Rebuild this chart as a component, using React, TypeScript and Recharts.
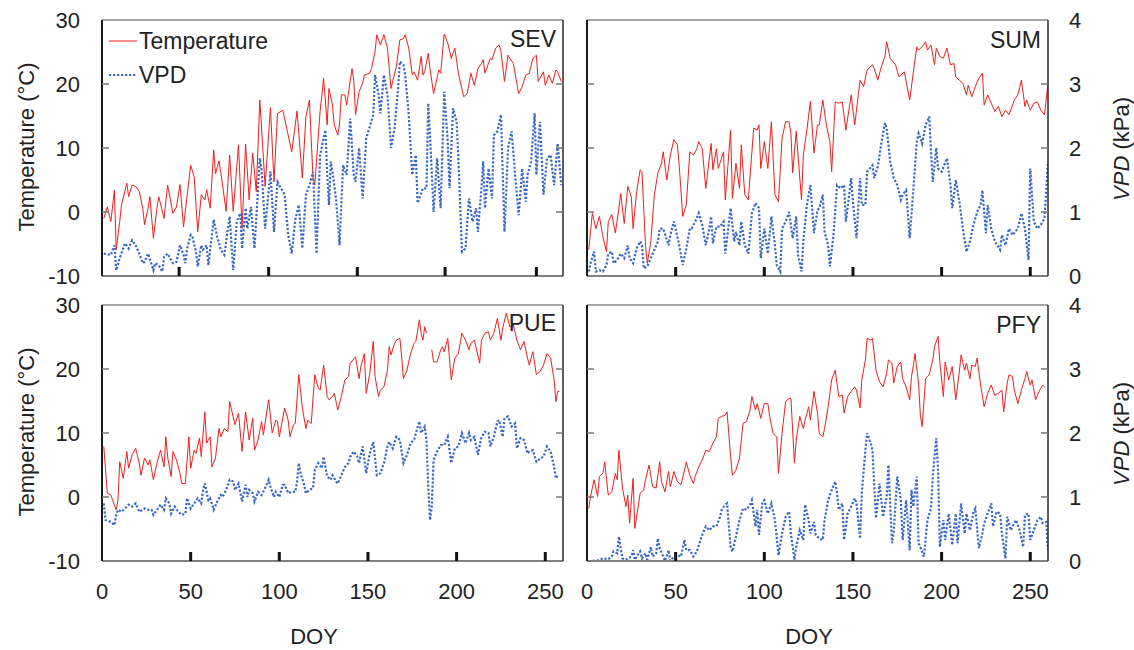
import React from 'react';
import { LineChart, Line, XAxis, YAxis } from 'recharts';

type Pt = [number, number | null];

// [DOY, °C] and [DOY, kPa]
const sevTemp: Pt[] = [[1,-1],[3,0.8],[5,-1.5],[7,3.4],[8,-5.9],[10,-1.5],[11,1.1],[14,4.5],[15,2.4],[17,4.2],[19,4],[21,3.2],[23,0.6],[24,-2],[26,0.6],[27,2.4],[29,-4.1],[31,0.6],[32,2.4],[35,-1],[37,4.2],[40,-0.2],[42,0.8],[44,4.3],[46,-2.3],[50,7.3],[52,5.5],[54,-3.1],[56,2.7],[58,1.9],[59,3.5],[61,0.6],[63,9.7],[64,6],[66,8],[68,4.2],[70,0.1],[72,8.9],[74,0.1],[77,10.5],[79,-2.6],[81,10.6],[83,1.9],[85,9.2],[87,3.2],[89,17.5],[90,13.1],[92,4],[95,16.3],[97,4.7],[99,15.4],[102,15.9],[104,13.3],[107,9.4],[110,15.8],[113,5.3],[115,14.9],[117,17.5],[119,5.3],[120,4.2],[123,15.7],[125,20.9],[127,13.6],[128,19.3],[130,16.7],[131,13.6],[133,12],[134,13.9],[135,18.3],[137,18.3],[138,16.7],[141,22.4],[142,20.6],[143,15.2],[145,18.8],[147,20.1],[148,21.4],[151,21.7],[152,22.4],[154,25.1],[155,27.7],[157,26.1],[159,27.7],[161,25.6],[163,19.3],[166,22.7],[168,26.9],[170,27.1],[171,27.7],[173,25.6],[175,21.4],[176,21.9],[178,20.6],[180,24.3],[181,21.4],[182,21.9],[184,24.8],[185,22.4],[187,18.5],[190,22.2],[191,21.7],[193,27.8],[195,26.4],[197,24],[199,25.6],[201,21.7],[204,18],[206,18.5],[208,21.7],[210,19.8],[212,22.4],[214,23.2],[215,23.8],[216,21.7],[219,24],[220,23.8],[222,25.6],[224,26.1],[225,25.1],[227,20.4],[229,24.5],[230,24],[232,23.2],[235,18.5],[237,19.6],[239,21.4],[241,21.7],[243,24],[245,24.5],[246,20.4],[249,21.9],[250,19.8],[252,21.4],[254,20.1],[256,22.2],[257,21.9],[259,20.4]];
const sevVpd: Pt[] = [[1,0.35],[5,0.33],[7,0.48],[8,0.09],[10,0.28],[13,0.51],[15,0.43],[17,0.56],[19,0.48],[21,0.35],[23,0.2],[24,0.22],[26,0.35],[29,0.09],[30,0.2],[32,0.17],[34,0.07],[35,0.3],[37,0.35],[40,0.2],[42,0.22],[44,0.48],[46,0.33],[47,0.2],[48,0.43],[50,0.64],[51,0.61],[53,0.38],[54,0.15],[56,0.48],[57,0.41],[59,0.48],[60,0.17],[63,0.88],[65,0.61],[67,0.41],[69,0.33],[71,0.74],[72,0.93],[74,0.09],[76,0.85],[78,0.98],[79,0.43],[81,1.06],[82,0.74],[84,1.08],[86,0.43],[89,1.84],[90,1.66],[92,0.74],[95,1.63],[97,0.69],[99,1.47],[101,1.37],[103,1.27],[105,0.64],[107,0.35],[109,0.88],[111,1.11],[113,0.43],[115,1.27],[117,1.42],[119,1.63],[121,0.35],[123,1.89],[126,2.28],[127,1.6],[128,1.11],[129,1.79],[130,1.63],[132,1.21],[134,0.48],[135,1.16],[136,1.73],[138,1.58],[140,2.46],[142,1.58],[143,1.47],[145,2],[147,1.21],[149,2.15],[151,2.33],[153,2.52],[154,3.14],[156,2.83],[157,2.54],[159,3.14],[161,2.83],[163,2],[165,2.31],[167,2.93],[168,3.35],[170,3.3],[171,3.14],[173,2.52],[175,1.58],[177,1.89],[178,1.14],[181,1.37],[183,1.37],[184,2.7],[185,2.2],[187,1],[189,1.84],[191,1.06],[193,2.88],[195,2.1],[196,1.37],[198,2.62],[200,2.41],[201,1.84],[203,0.38],[205,0.43],[207,1.21],[209,0.85],[211,1.06],[212,0.69],[214,1.37],[215,1.79],[216,1.06],[218,1.68],[220,1.21],[221,2.2],[223,2.26],[225,2.52],[227,0.69],[229,2],[231,2.26],[233,1.58],[235,0.95],[237,1.68],[239,1.16],[240,1.58],[242,1.79],[244,2.54],[245,1.58],[247,2.41],[249,1.27],[251,1.84],[253,1.89],[255,1.42],[257,2.07],[259,1.42]];

const sumTemp: Pt[] = [[1,-5.9],[3,-0.2],[5,-2.6],[7,-0.7],[9,-3.9],[11,-6.2],[12,-1.5],[14,-0.4],[16,-3.3],[18,0.6],[19,2.9],[21,-1.8],[23,4],[25,2.4],[26,-2.6],[28,3.2],[30,6.6],[31,6.3],[33,-5.2],[34,-8],[36,-4.6],[38,2.7],[40,6.1],[42,7.6],[43,9.4],[45,5],[47,8.9],[49,11.3],[51,10.5],[52,7.3],[54,-0.7],[56,1.1],[58,9.4],[60,8.9],[62,9.9],[63,11],[65,9.9],[67,3.7],[70,10.7],[71,6.6],[73,9.9],[74,6.8],[77,9.4],[78,1.9],[81,12.8],[82,2.1],[84,7.6],[86,3.7],[87,10.5],[89,2.7],[91,1.9],[94,13.1],[96,12.8],[97,13.6],[98,6.8],[100,11],[102,6.8],[104,14.1],[106,2.7],[108,1.6],[110,11.5],[112,14.1],[114,14.1],[115,12.3],[116,6.1],[118,12.6],[120,5.3],[121,1.9],[122,8.9],[124,12.8],[126,17.3],[128,9.2],[130,13.6],[131,13.6],[133,17.5],[135,13.6],[137,11],[138,6.3],[140,17.2],[142,17],[144,17.2],[146,12.8],[149,18.3],[151,13.6],[154,20.6],[156,19.6],[158,22.2],[161,23],[162,22.4],[164,20.6],[166,22.7],[168,24.3],[169,26.6],[171,24],[174,23],[176,21.1],[177,21.4],[179,21.9],[182,17.5],[184,21.7],[186,25.8],[187,25.3],[189,25.8],[191,26.6],[192,25.3],[194,26.1],[196,23],[197,25.6],[199,24.3],[201,24],[203,25.6],[205,23],[207,23.2],[208,21.1],[210,20.6],[212,20.1],[214,18.3],[215,19.8],[217,18],[219,19.6],[221,20.9],[223,21.7],[224,16.7],[226,18.3],[228,17],[230,15.7],[232,16.5],[234,14.9],[236,15.9],[238,15.2],[240,16.7],[241,17.5],[243,18.3],[245,20.6],[247,16.5],[248,17.5],[250,15.9],[252,17],[254,17.2],[256,15.9],[258,15.2],[260,20.1]];
const sumVpd: Pt[] = [[1,0.07],[2,0.2],[4,0.38],[5,0.07],[7,0.09],[9,0.07],[11,0.17],[12,0.35],[14,0.38],[15,0.2],[17,0.25],[19,0.35],[21,0.28],[23,0.48],[24,0.28],[26,0.2],[28,0.43],[30,0.54],[31,0.48],[32,0.12],[34,0.15],[36,0.28],[38,0.41],[40,0.54],[41,0.74],[43,0.74],[46,0.48],[47,0.64],[49,0.85],[50,0.74],[52,0.48],[54,0.17],[56,0.43],[58,0.74],[59,0.74],[61,0.85],[63,0.98],[65,0.8],[67,0.48],[69,0.74],[70,0.93],[71,0.51],[73,0.77],[75,0.77],[77,0.85],[78,0.35],[81,1.06],[83,0.54],[84,0.69],[86,0.48],[87,0.85],[89,0.48],[91,0.35],[93,0.98],[95,1.14],[97,1.06],[98,0.28],[100,0.74],[102,0.35],[104,0.93],[106,0.48],[107,0.17],[109,0.07],[110,0.74],[112,0.85],[114,1],[116,0.59],[118,0.93],[119,0.33],[121,0.07],[122,0.54],[124,1.11],[126,1.42],[128,0.67],[130,1.03],[131,1.06],[133,1.27],[134,0.69],[136,0.48],[137,0.15],[139,0.64],[141,1.42],[143,1.37],[145,1.42],[146,0.85],[149,1.53],[150,1.16],[152,0.59],[154,1.53],[155,1.11],[157,1.11],[158,1.63],[161,1.73],[162,1.53],[164,1.71],[166,2.07],[168,2.39],[169,2.31],[171,1.79],[173,1.53],[175,1.42],[177,1.19],[178,1.27],[180,1.34],[182,0.59],[184,1.32],[186,2.1],[187,2.23],[189,2.07],[191,2.36],[193,2.49],[195,1.47],[197,2],[198,1.68],[200,1.63],[203,1.84],[205,1.42],[206,1.06],[208,1.5],[210,1.16],[212,0.74],[214,0.38],[216,0.54],[218,0.8],[220,1],[222,1.11],[223,1.34],[225,0.67],[226,1.11],[228,0.74],[230,0.54],[233,0.41],[234,0.64],[236,0.48],[238,0.74],[240,0.64],[243,0.74],[245,0.98],[247,0.74],[249,0.25],[250,1.68],[252,0.85],[254,0.74],[256,0.8],[258,0.9],[260,1.79]];

// PUE temperature has a short gap after DOY 183
const pueTemp: Pt[] = [[1,7.9],[3,0.6],[5,0.3],[6,-0.5],[8,-2],[9,-0.5],[10,5.5],[12,2.9],[14,7.1],[15,4.5],[17,6.6],[19,7.6],[21,5.3],[22,3.4],[24,6.1],[26,5],[27,5.8],[29,2.7],[31,5.3],[33,7.3],[35,4.7],[36,9.4],[37,6.3],[39,3.2],[40,7.1],[42,5.8],[44,3.7],[45,2.1],[47,2.1],[49,9.4],[50,4.5],[52,7.3],[53,6.8],[55,9.2],[56,6.3],[58,13.3],[59,8.4],[61,9.4],[62,4.7],[64,6.1],[66,10.7],[67,9.4],[69,10.7],[71,10.2],[72,14.9],[75,11.3],[77,13.1],[79,7.1],[81,13.3],[83,8.9],[85,12.3],[86,7.3],[88,8.9],[90,11.8],[91,9.7],[94,15.2],[96,10],[98,12],[99,11.8],[100,9.4],[103,13.9],[105,12],[106,9.4],[108,11.3],[109,11.5],[111,19.1],[113,13.9],[115,10.7],[116,12],[118,11.5],[120,19.1],[122,17],[123,16.7],[125,20.6],[127,15.7],[128,15.2],[130,15.7],[131,16.2],[133,13.6],[135,15.7],[137,18.3],[139,18.8],[140,20.9],[143,21.9],[145,18.5],[146,20.4],[148,22.4],[149,16.2],[151,19.3],[153,24.3],[154,18.8],[156,15.7],[157,16.7],[159,17.2],[161,19.8],[162,23.5],[163,22.2],[165,24],[166,24.5],[168,24.8],[169,21.9],[170,18.5],[172,19.8],[174,22.4],[176,24],[177,24.3],[179,27.7],[180,25.6],[181,24.5],[182,26.6],[183,25.6],[184.5,null],[186,23],[187,21.1],[189,21.1],[191,23],[192,23.5],[193,22.7],[195,24.8],[197,18.3],[199,21.7],[201,22.4],[203,25.6],[205,24.5],[207,23],[208,24],[210,24.5],[213,20.9],[214,24.5],[216,25.6],[218,25.8],[219,24.5],[221,25.6],[223,27.9],[225,24.5],[226,26.4],[228,28.7],[230,26.6],[232,26.9],[234,24.5],[236,23],[238,24.3],[240,21.7],[241,20.6],[243,22.7],[245,19.1],[247,19.6],[249,20.6],[251,22.4],[253,21.7],[255,18.3],[256,14.9],[257,16.5],[258,16.5]];
const pueVpd: Pt[] = [[1,0.9],[2,0.64],[5,0.61],[7,0.56],[8,0.72],[9,0.8],[11,0.77],[13,0.82],[15,0.88],[17,0.85],[19,0.9],[21,0.77],[23,0.8],[24,0.82],[26,0.8],[28,0.8],[29,0.72],[31,0.8],[33,0.88],[35,0.8],[36,0.98],[38,0.9],[39,0.74],[41,0.85],[43,0.77],[45,0.72],[47,0.74],[48,0.98],[50,0.82],[52,0.9],[54,0.98],[56,0.9],[57,1.11],[58,1.21],[60,0.95],[61,0.98],[63,0.8],[65,0.93],[67,1.03],[68,1],[70,1.11],[72,1.27],[74,1.24],[75,1.11],[77,1.21],[79,0.93],[81,1.19],[82,1],[83,1.11],[85,1.06],[86,0.93],[88,1.08],[90,1.03],[92,1.14],[94,1.27],[95,1.16],[97,1],[98,1.08],[100,1],[102,1.19],[103,1.19],[105,1.06],[107,1.08],[109,1.08],[110,1.24],[111,1.53],[112,1.37],[114,1.19],[115,1.06],[117,1.11],[119,1.14],[120,1.42],[122,1.53],[124,1.45],[125,1.63],[127,1.32],[129,1.27],[130,1.34],[132,1.24],[133,1.21],[135,1.34],[137,1.47],[139,1.53],[140,1.63],[142,1.71],[144,1.63],[145,1.53],[147,1.79],[149,1.37],[151,1.68],[153,1.86],[155,1.34],[157,1.37],[159,1.53],[161,1.79],[162,1.86],[164,1.76],[166,1.94],[168,1.89],[170,1.53],[172,1.66],[174,1.84],[176,1.89],[177,2],[179,2.18],[180,2],[182,2.1],[183,1.89],[184,1.16],[185,0.64],[186,0.85],[187,1.58],[189,1.71],[191,1.81],[193,1.81],[195,1.94],[197,1.53],[199,1.76],[201,1.79],[203,2],[205,1.84],[207,2],[208,1.89],[210,1.94],[212,1.66],[214,1.94],[216,2.02],[218,2],[219,1.79],[221,1.94],[223,2.18],[224,2.2],[226,1.94],[227,2.23],[229,2.26],[231,2.1],[233,2.15],[234,1.76],[236,1.92],[238,1.89],[240,1.68],[241,1.71],[243,1.73],[245,1.55],[247,1.6],[249,1.63],[251,1.79],[253,1.71],[255,1.47],[256,1.29],[257,1.34]];

const pfyTemp: Pt[] = [[1,-1.8],[2,0.1],[4,2.7],[6,0.1],[7,3.2],[9,3.7],[10,5.5],[12,0.3],[14,0.8],[16,3.7],[17,2.7],[18,7.3],[20,1.4],[22,-1.5],[23,0.3],[24,-4.1],[26,2.9],[27,-4.9],[30,0.6],[32,1.1],[33,2.7],[35,5],[37,1.6],[39,1.4],[41,5.5],[42,2.4],[44,0.8],[46,4],[47,1.6],[49,4],[51,2.4],[53,1.9],[55,4.2],[56,5.5],[58,3.4],[60,2.1],[61,3.2],[63,4.7],[65,5.8],[67,7.3],[69,7.1],[71,8.4],[73,9.4],[74,12.3],[76,12.6],[78,12.8],[79,13.3],[81,6.3],[82,3.4],[84,4.2],[86,6.1],[88,11.5],[90,11.8],[92,13.6],[93,15.7],[95,13.6],[96,14.6],[98,12.3],[100,14.6],[102,14.6],[103,12.6],[105,9.9],[107,9.4],[108,3.7],[110,9.9],[112,14.9],[114,15.4],[115,15.4],[117,5.3],[118,8.9],[120,12.6],[122,10.7],[123,12],[125,14.1],[126,12],[128,16.5],[130,13.1],[131,9.9],[133,9.4],[134,10.7],[136,14.1],[138,18.3],[140,19.8],[142,15.7],[144,15.9],[145,13.1],[147,15.7],[149,16.5],[151,17.2],[152,16.7],[154,13.9],[155,18.3],[157,21.4],[158,24.8],[160,24.5],[161,24.8],[163,19.8],[165,18],[167,17.2],[169,19.3],[170,21.4],[172,20.9],[173,17.8],[175,20.4],[177,21.1],[178,18.5],[180,17.2],[182,15.2],[183,18.8],[184,20.4],[185,22.4],[187,17.8],[188,12.8],[189,11],[191,18.5],[193,19.1],[195,21.4],[196,23.5],[198,25.1],[199,21.1],[201,15.7],[202,21.1],[204,18.3],[206,20.4],[208,15.2],[210,19.6],[211,22.2],[213,19.8],[214,20.9],[216,18.5],[217,20.6],[219,20.4],[220,21.7],[222,17.5],[224,14.1],[226,16.2],[228,17.5],[230,15.9],[232,16.2],[234,16.7],[235,13.3],[237,17.8],[238,19.1],[240,18.8],[241,16.7],[243,14.6],[245,16.7],[247,18.5],[248,19.6],[250,17.5],[251,18.3],[253,15.2],[255,16.5],[257,17.5],[258,17.2]];
const pfyVpd: Pt[] = [[1,0],[3,0],[6,0.01],[9,0.04],[12,0.03],[14,0.07],[15,0.15],[17,0.12],[18,0.38],[19,0.2],[20,0.04],[22,0.02],[23,0.04],[25,0.07],[26,0.17],[27,0.02],[28,0.07],[30,0.15],[31,0.04],[33,0.12],[34,0.02],[36,0.22],[37,0.07],[39,0.12],[40,0.35],[41,0.2],[43,0.07],[44,0],[46,0.17],[47,0],[49,0.07],[51,0.09],[53,0.07],[55,0.33],[56,0.17],[58,0.17],[60,0.07],[62,0.15],[64,0.33],[65,0.41],[67,0.54],[69,0.48],[71,0.54],[73,0.54],[75,0.69],[76,0.8],[78,0.88],[79,0.9],[81,0.22],[82,0.15],[84,0.38],[86,0.64],[88,0.82],[90,0.8],[92,0.88],[93,0.95],[95,0.54],[96,0.8],[97,0.41],[99,0.93],[100,0.95],[102,0.74],[104,0.9],[106,0.64],[108,0.09],[110,0.43],[112,0.69],[114,0.77],[115,0.43],[117,0.02],[118,0.22],[120,0.48],[122,0.33],[123,0.88],[125,0.64],[126,0.43],[128,0.61],[129,0.41],[131,0.35],[133,0.33],[134,0.64],[136,0.95],[138,1.11],[140,1.24],[141,1.06],[142,0.8],[144,0.9],[145,0.33],[147,0.74],[149,0.85],[151,0.98],[152,0.9],[154,0.35],[155,1.06],[157,1.73],[158,2],[160,1.84],[161,1.73],[163,0.67],[165,1.21],[167,0.69],[169,1],[170,1.5],[172,0.28],[173,0.46],[175,1.32],[177,0.95],[178,0.33],[180,0.95],[182,0.17],[183,1.11],[184,0.85],[186,1.32],[187,0.28],[188,0.22],[190,0.07],[192,0.64],[194,0.82],[195,1.32],[197,1.92],[198,1.42],[199,0.22],[201,0.64],[202,0.33],[204,0.74],[206,0.25],[208,0.74],[209,0.28],[211,0.9],[213,0.43],[214,0.74],[216,0.48],[218,0.77],[219,0.82],[221,0.2],[223,0.43],[224,0.59],[226,0.74],[228,0.9],[229,0.54],[231,0.77],[233,0.74],[234,0.43],[236,0.04],[237,0.69],[239,0.48],[240,0.54],[242,0.64],[244,0.48],[246,0.22],[247,0.72],[249,0.74],[250,0.33],[252,0.48],[254,0.64],[256,0.69],[257,0.59],[259,0.61],[260,0.17]];

const tempTicks = [-10, 0, 10, 20, 30];
const vpdTicks = [0, 1, 2, 3, 4];
const doyTicks = [0, 50, 100, 150, 200, 250];
// the SEV panel's tick marks sit a few days left of the others in the original
const sevDoyMarks = [43.5, 94, 144, 193.5, 245];

const W = 1134;
const H = 650;
const PW = 461;
const PH = 256;
const FONT = '"Liberation Sans", Arial, Helvetica, sans-serif';
const INK = '#222';
const RED = '#f21c1c';
const BLUE = '#3a67c6';

const toRows = (pts: Pt[]) => pts.map(([day, val]) => ({ day, val }));

function DoyTick(props: any) {
  const { x, y, payload, showLabel } = props;
  const edge = y - 22;
  return (
    <g>
      {payload.value !== 0 && <rect x={x - 1.5} y={edge - 9} width={3} height={9} fill="#111" />}
      {showLabel && (
        <text x={x} y={y} dy="0.71em" textAnchor="middle" fontSize={22} fill={INK} fontFamily={FONT}>
          {payload.value}
        </text>
      )}
    </g>
  );
}

function SideTick(props: any) {
  const { x, y, payload, showLabel, side, lo, hi } = props;
  const edge = side === 'left' ? x + 22 : x - 21;
  const dir = side === 'left' ? 1 : -1;
  const inner = payload.value > lo && payload.value < hi;
  return (
    <g>
      {inner && <line x1={edge} x2={edge + dir * 7} y1={y} y2={y} stroke="#777" strokeWidth={1.5} />}
      {showLabel && (
        <text x={x} y={y} dy="0.36em" textAnchor={side === 'left' ? 'end' : 'start'} fontSize={22} fill={INK} fontFamily={FONT}>
          {payload.value}
        </text>
      )}
    </g>
  );
}

interface PanelProps {
  name: string;
  temp: Pt[];
  vpd: Pt[];
  left: number;
  top: number;
  marks: number[];
  tempLabels: boolean;
  vpdLabels: boolean;
  doyLabels: boolean;
  nameY: number;
}

// axes need a non-zero size to be drawn, so each takes 1px and the margins give it back
function Panel({ name, temp, vpd, left, top, marks, tempLabels, vpdLabels, doyLabels, nameY }: PanelProps) {
  const margin = { top: top - 1, left: left - 1, right: W - left - PW - 1, bottom: H - top - PH - 1 };
  return (
    <>
      <div style={{ position: 'absolute', left: 0, top: 0 }}>
        <LineChart width={W} height={H} margin={margin}>
          <XAxis
            xAxisId="x"
            type="number"
            dataKey="day"
            domain={[0, 260]}
            allowDataOverflow
            ticks={marks}
            interval={0}
            height={1}
            tickSize={0}
            tickMargin={22}
            tickLine={false}
            axisLine={{ stroke: '#808080', strokeWidth: 2 }}
            tick={(p: any) => <DoyTick {...p} showLabel={doyLabels} />}
          />
          <XAxis
            xAxisId="top"
            orientation="top"
            type="number"
            domain={[0, 260]}
            height={1}
            tick={false}
            tickLine={false}
            axisLine={{ stroke: '#8a8a8a', strokeWidth: 1.5 }}
          />
          <YAxis
            yAxisId="t"
            orientation="left"
            type="number"
            domain={[-10, 30]}
            allowDataOverflow
            ticks={tempTicks}
            interval={0}
            width={1}
            tickSize={0}
            tickMargin={22}
            tickLine={false}
            axisLine={{ stroke: '#1a1a1a', strokeWidth: 2 }}
            tick={(p: any) => <SideTick {...p} side="left" lo={-10} hi={30} showLabel={tempLabels} />}
          />
          <YAxis
            yAxisId="v"
            orientation="right"
            type="number"
            domain={[0, 4]}
            allowDataOverflow
            ticks={vpdTicks}
            interval={0}
            width={1}
            tickSize={0}
            tickMargin={21}
            tickLine={false}
            axisLine={{ stroke: '#2a2a2a', strokeWidth: 1.5 }}
            tick={(p: any) => <SideTick {...p} side="right" lo={0} hi={4} showLabel={vpdLabels} />}
          />
          <Line
            xAxisId="x"
            yAxisId="t"
            data={toRows(temp)}
            dataKey="val"
            type="linear"
            stroke={RED}
            strokeWidth={1}
            dot={false}
            activeDot={false}
            connectNulls={false}
            isAnimationActive={false}
          />
          <Line
            xAxisId="x"
            yAxisId="v"
            data={toRows(vpd)}
            dataKey="val"
            type="linear"
            stroke={BLUE}
            strokeWidth={2.2}
            strokeDasharray="2.2 1.8"
            dot={false}
            activeDot={false}
            isAnimationActive={false}
          />
        </LineChart>
      </div>
      <div style={{ ...textStyle(23), left: left + PW - 7 - 120, top: nameY - 11.5, width: 120, textAlign: 'right' }}>{name}</div>
    </>
  );
}

function textStyle(fs: number, lh = fs): React.CSSProperties {
  return {
    position: 'absolute',
    fontFamily: FONT,
    fontSize: fs,
    lineHeight: `${lh}px`,
    color: INK,
    whiteSpace: 'nowrap',
  };
}

function VTitle({ cx, cy, children }: { cx: number; cy: number; children: React.ReactNode }) {
  return (
    <div style={{ ...textStyle(22), left: cx, top: cy, transform: 'translate(-50%, -50%) rotate(-90deg)' }}>{children}</div>
  );
}

export default function App() {
  return (
    <div style={{ position: 'absolute', left: 0, top: 0, width: W, height: H, background: '#fff' }}>
      <Panel name="SEV" temp={sevTemp} vpd={sevVpd} left={102} top={20} marks={sevDoyMarks} tempLabels vpdLabels={false} doyLabels={false} nameY={39} />
      <Panel name="SUM" temp={sumTemp} vpd={sumVpd} left={587} top={20} marks={doyTicks} tempLabels={false} vpdLabels doyLabels={false} nameY={40} />
      <Panel name="PUE" temp={pueTemp} vpd={pueVpd} left={102} top={305} marks={doyTicks} tempLabels vpdLabels={false} doyLabels nameY={323} />
      <Panel name="PFY" temp={pfyTemp} vpd={pfyVpd} left={587} top={305} marks={doyTicks} tempLabels={false} vpdLabels doyLabels nameY={325} />

      <VTitle cx={27} cy={147}>Temperature (°C)</VTitle>
      <VTitle cx={27} cy={432}>Temperature (°C)</VTitle>
      <VTitle cx={1122} cy={149}><i>VPD</i> (kPa)</VTitle>
      <VTitle cx={1122} cy={434}><i>VPD</i> (kPa)</VTitle>

      <div style={{ ...textStyle(22, 16), left: 314, top: 637, transform: 'translate(-50%, -50%)' }}>DOY</div>
      <div style={{ ...textStyle(22, 16), left: 809, top: 637, transform: 'translate(-50%, -50%)' }}>DOY</div>

      <svg width={32} height={10} style={{ position: 'absolute', left: 106, top: 36 }}>
        <line x1={3} x2={31} y1={5} y2={5} stroke={RED} strokeWidth={1} />
      </svg>
      <svg width={32} height={10} style={{ position: 'absolute', left: 106, top: 70 }}>
        <line x1={3} x2={31} y1={5} y2={5} stroke={BLUE} strokeWidth={2.2} strokeDasharray="2.2 1.8" />
      </svg>
      <div style={{ ...textStyle(23), left: 139, top: 41 - 11.5 }}>Temperature</div>
      <div style={{ ...textStyle(23), left: 139, top: 75 - 11.5 }}>VPD</div>
    </div>
  );
}
